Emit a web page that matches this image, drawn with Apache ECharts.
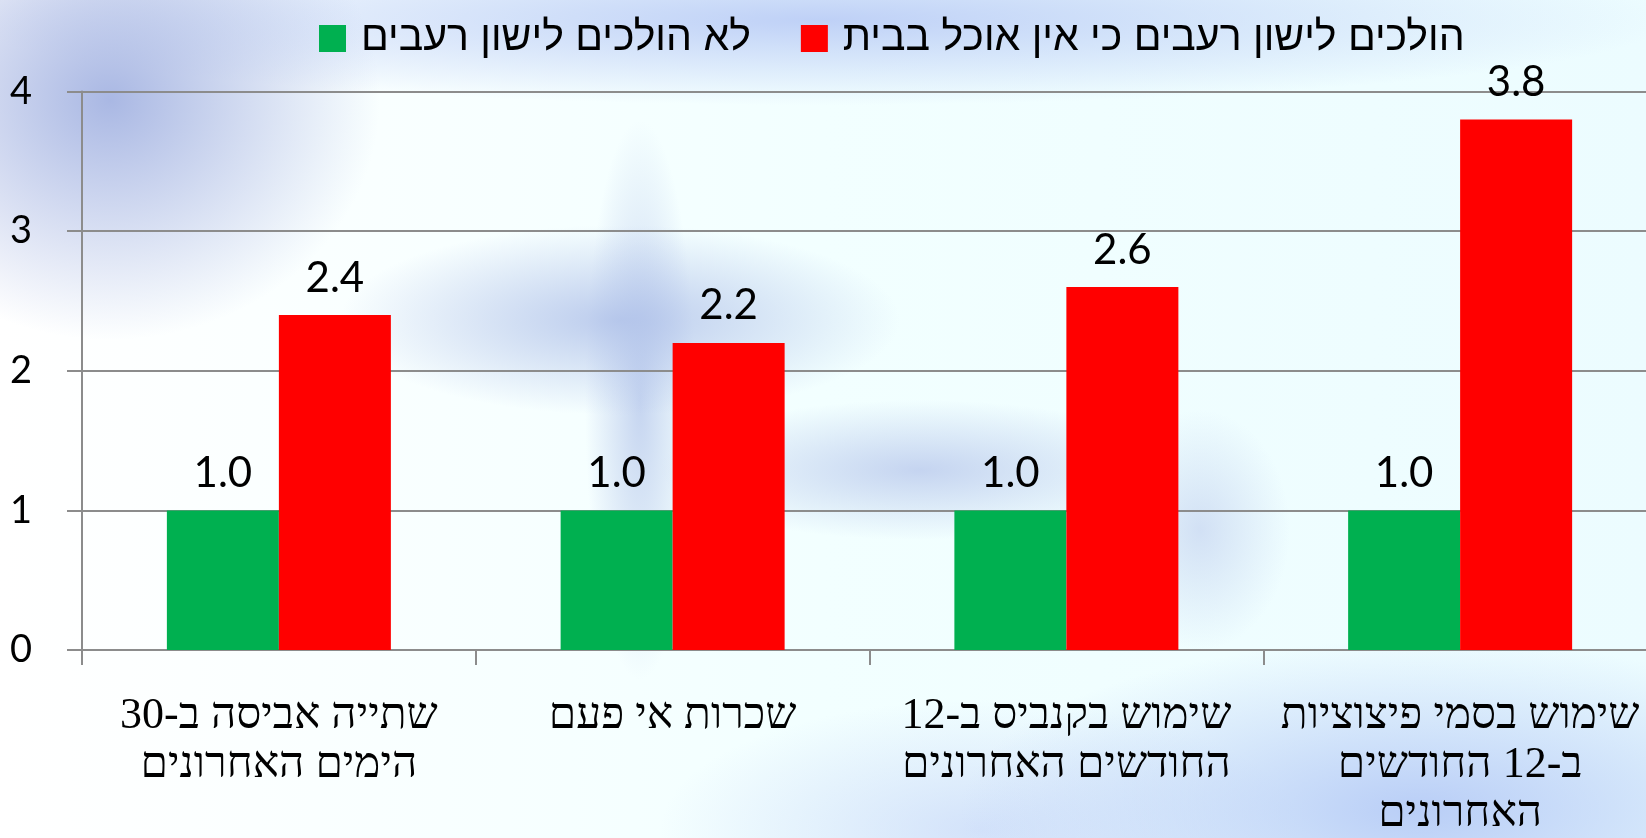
<!DOCTYPE html>
<html>
<head>
<meta charset="utf-8">
<script src="https://cdn.jsdelivr.net/npm/echarts@6/dist/echarts.min.js"></script>
<style>
  html, body { margin: 0; padding: 0; }
  #chart {
    width: 1646px;
    height: 838px;
    /* rough stand-in for the blurry blue slide background */
    background:
      radial-gradient(ellipse 270px 240px at 110px 100px, rgba(165,180,226,0.95), rgba(165,180,226,0) 100%),
      radial-gradient(ellipse 850px 85px at 820px 20px, rgba(188,206,246,0.95), rgba(188,206,246,0) 100%),
      radial-gradient(ellipse 280px 95px at 620px 320px, rgba(172,190,232,0.8), rgba(172,190,232,0) 100%),
      radial-gradient(ellipse 55px 280px at 640px 400px, rgba(172,190,232,0.65), rgba(172,190,232,0) 100%),
      radial-gradient(ellipse 260px 70px at 920px 470px, rgba(178,194,234,0.7), rgba(178,194,234,0) 100%),
      radial-gradient(ellipse 90px 120px at 1200px 530px, rgba(185,200,236,0.55), rgba(185,200,236,0) 100%),
      radial-gradient(ellipse 460px 170px at 1420px 810px, rgba(182,203,246,0.95), rgba(182,203,246,0) 100%),
      radial-gradient(ellipse 320px 130px at 980px 830px, rgba(198,214,248,0.7), rgba(198,214,248,0) 100%),
      linear-gradient(90deg, #ffffff 0%, #f2ffff 50%, #ecfcff 100%);
  }
</style>
</head>
<body>
<div id="chart"></div>
<script>
  // categories (line breaks as in the picture)
  const categories = [
    'שתייה אביסה ב-30\nהימים האחרונים',
    'שכרות אי פעם',
    'שימוש בקנביס ב-12\nהחודשים האחרונים',
    'שימוש בסמי פיצוציות\nב-12 החודשים\nהאחרונים'
  ];
  const seriesNames = ['לא הולכים לישון רעבים', 'הולכים לישון רעבים כי אין אוכל בבית'];
  const notHungry = [1.0, 1.0, 1.0, 1.0];
  const hungry = [2.4, 2.2, 2.6, 3.8];
  const yTicks = [0, 1, 2, 3, 4];

  const GREEN = '#00b050';
  const RED = '#ff0000';
  const AXIS_GREY = '#8c8c8c';
  const sansFont = 'Lato, "Open Sans", sans-serif';
  const hebSans = '"Liberation Sans", "DejaVu Sans", sans-serif';
  const hebSerif = '"Liberation Serif", "DejaVu Serif", serif';

  const chart = echarts.init(document.getElementById('chart'));

  const valueLabel = {
    show: true,
    position: 'top',
    distance: 16,
    fontFamily: sansFont,
    fontSize: 42,
    color: '#000',
    formatter: (p) => p.value.toFixed(1)
  };

  const option = {
    animation: false,
    backgroundColor: 'transparent',
    legend: {
      left: 314,
      top: 13,
      itemWidth: 27,
      itemHeight: 27,
      itemGap: 50,
      icon: 'rect',
      textStyle: {
        fontFamily: hebSans,
        fontSize: 41,
        color: '#000',
        padding: [0, 0, 0, 10]
      },
      data: seriesNames
    },
    grid: {
      left: 82,
      top: 91.6,
      bottom: 188,
      width: 1575,
      outerBoundsMode: 'none',
      containLabel: false
    },
    xAxis: {
      type: 'category',
      data: categories,
      axisLine: { show: true, lineStyle: { color: AXIS_GREY, width: 2 } },
      axisTick: { show: true, length: 15, lineStyle: { color: AXIS_GREY, width: 2 } },
      axisLabel: {
        interval: 0,
        margin: 42,
        fontFamily: hebSerif,
        fontSize: 44,
        lineHeight: 49,
        color: '#000',
        align: 'center'
      },
      splitLine: { show: false }
    },
    yAxis: {
      type: 'value',
      min: yTicks[0],
      max: yTicks[yTicks.length - 1],
      interval: 1,
      axisLine: { show: true, lineStyle: { color: AXIS_GREY, width: 2 } },
      axisTick: { show: true, length: 15, lineStyle: { color: AXIS_GREY, width: 2 } },
      axisLabel: {
        margin: 50,
        fontFamily: sansFont,
        fontSize: 38,
        color: '#000',
        align: 'right'
      },
      splitLine: { show: true, lineStyle: { color: AXIS_GREY, width: 2 } }
    },
    series: [
      {
        name: seriesNames[0],
        type: 'bar',
        data: notHungry,
        barWidth: 112,
        barGap: '0%',
        itemStyle: { color: GREEN },
        label: valueLabel
      },
      {
        name: seriesNames[1],
        type: 'bar',
        data: hungry,
        barWidth: 112,
        barGap: '0%',
        itemStyle: { color: RED },
        label: valueLabel
      }
    ]
  };

  chart.setOption(option);
</script>
</body>
</html>
